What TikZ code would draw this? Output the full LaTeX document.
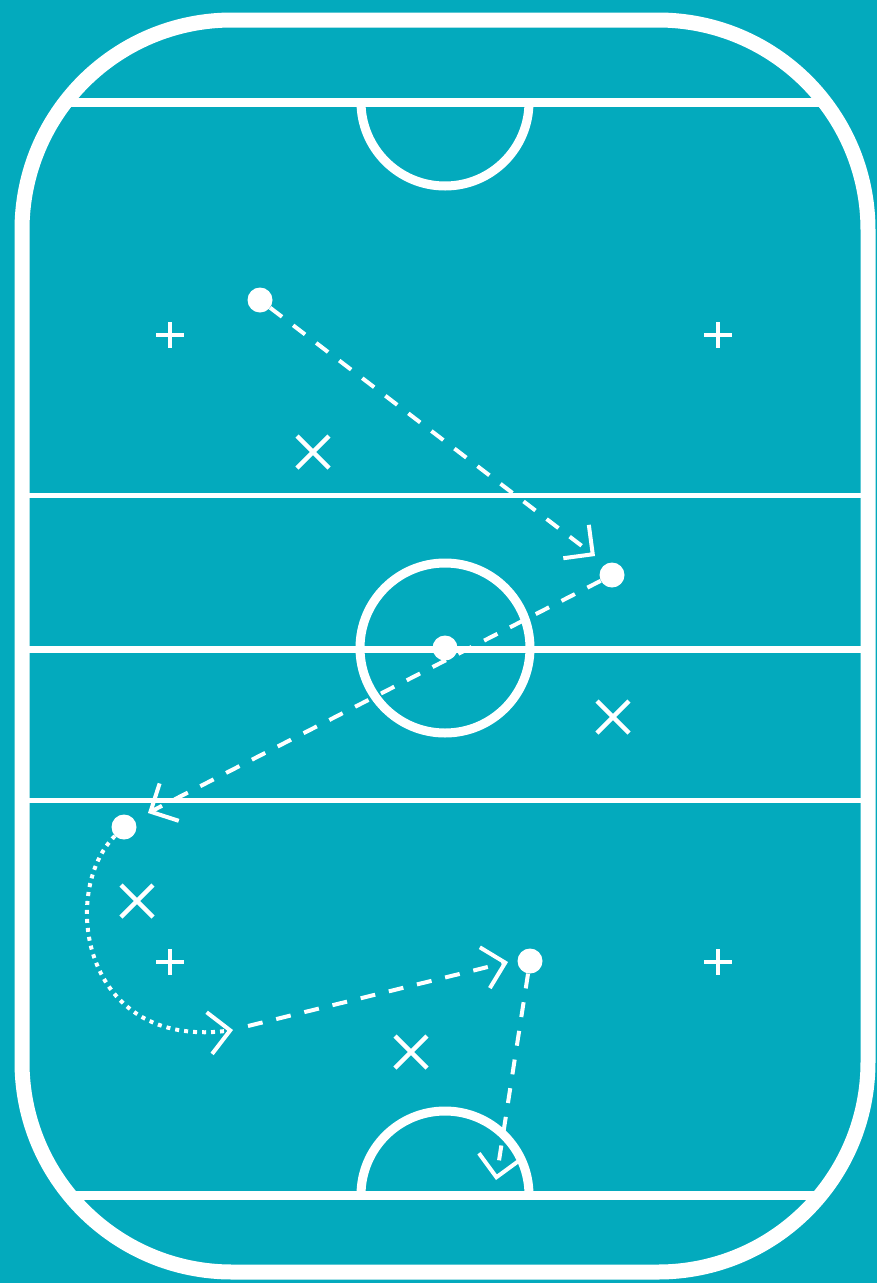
\documentclass[tikz,border=0pt]{standalone}
\usetikzlibrary{arrows.meta}
\definecolor{rinkbg}{HTML}{03AABD}
\tikzset{
  rinkline/.style={white,line width=#1},
  dot/.style={circle,fill=white,inner sep=0pt,minimum size=25pt},
  pass/.style={white,line width=4pt,dash pattern=on 15pt off 14pt,-{Straight Barb[length=21pt,width=42pt]}},
  skate/.style={white,line width=4pt,dash pattern=on 4pt off 5pt,-{Straight Barb[length=21pt,width=42pt]}},
  plusmark/.pic={\draw[white,line width=4.5pt] (-14,0)--(14,0) (0,-13)--(0,13);},
  xmark/.pic={\draw[white,line width=4.5pt] (-16,-16)--(16,16) (-16,16)--(16,-16);}
}
\begin{document}
\begin{tikzpicture}[x=1pt,y=-1pt]
\fill[rinkbg] (0,0) rectangle (877,1283);
\useasboundingbox (0,0) rectangle (877,1283);
\begin{scope}
  \clip[rounded corners=210pt] (22,20) rectangle (868,1272);
  \draw[rinkline=9pt] (0,102) -- (877,102);
  \draw[rinkline=9pt] (0,1195) -- (877,1195);
  \draw[rinkline=5pt] (0,495) -- (877,495);
  \draw[rinkline=7pt] (0,649) -- (877,649);
  \draw[rinkline=5pt] (0,800) -- (877,800);
\end{scope}
\begin{scope}
  \clip (0,102) rectangle (877,300);
  \draw[rinkline=9pt] (445,102) circle[radius=84];
\end{scope}
\begin{scope}
  \clip (0,1000) rectangle (877,1195);
  \draw[rinkline=9pt] (445,1195) circle[radius=84];
\end{scope}
\draw[rinkline=9pt] (445,648) circle[radius=85];
\draw[rinkline=15pt,rounded corners=210pt] (22,20) rectangle (868,1272);

\pic at (170,335) {plusmark};
\pic at (718,335) {plusmark};
\pic at (170,962) {plusmark};
\pic at (718,962) {plusmark};
\pic at (313,452) {xmark};
\pic at (613,717) {xmark};
\pic at (137,901) {xmark};
\pic at (411,1052) {xmark};

\node[dot] (d1) at (260,300) {};
\node[dot] (d2) at (612,575) {};
\node[dot] (d3) at (445,648) {};
\node[dot] (d4) at (124,827) {};
\node[dot] (d5) at (530,961) {};

\coordinate (e1) at (595,556);
\coordinate (e2) at (148,813);
\coordinate (e3) at (233,1030);
\coordinate (s4) at (248,1026);
\coordinate (e4) at (508,962);
\coordinate (e5) at (496,1180);

\draw[pass] (d1) -- (e1);
\draw[pass] (d2) -- (e2);
\draw[skate] (d4) .. controls (60,890) and (80,1050) .. (e3);
\draw[pass] (s4) -- (e4);
\draw[pass] (d5) -- (e5);
\end{tikzpicture}
\end{document}
